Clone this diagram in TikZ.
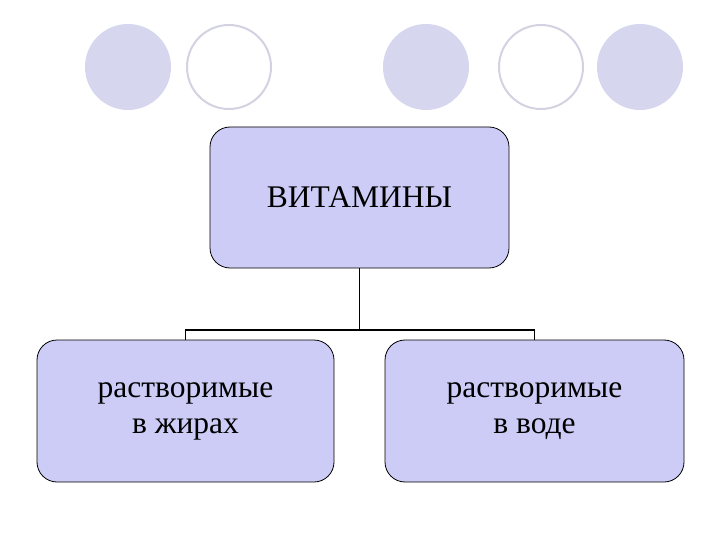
\documentclass[tikz,border=0pt]{standalone}
\usepackage{fontspec}
\setmainfont{Liberation Serif}
\definecolor{boxfill}{HTML}{CCCCF7}
\definecolor{circfill}{HTML}{D6D6EE}
\definecolor{circline}{HTML}{D2D2E2}
\tikzset{
  vbox/.style={draw=black, line width=0.8pt, fill=boxfill, rounded corners=20pt, align=center, font=\fontsize{31.5}{36}\selectfont},
  fcirc/.style={circle, fill=circfill, minimum size=86pt, inner sep=0pt},
  ocirc/.style={circle, draw=circline, line width=2pt, fill=white, minimum size=84pt, inner sep=0pt},
  conn/.style={draw=black, line width=1.6pt}
}
\begin{document}
\begin{tikzpicture}[x=1pt,y=-1pt]
\useasboundingbox (0,0) rectangle (720,540);
\node[fcirc] (c1) at (128,67) {};
\node[ocirc] (c2) at (229,67) {};
\node[fcirc] (c3) at (426,67) {};
\node[ocirc] (c4) at (541,67) {};
\node[fcirc] (c5) at (640,67) {};
\node[vbox, minimum width=299pt, minimum height=141pt] (top) at (359.5,197.5) {ВИТАМИНЫ};
\node[vbox, minimum width=297pt, minimum height=142pt] (left) at (185.5,411) {растворимые\\в жирах};
\node[vbox, minimum width=299pt, minimum height=142pt] (right) at (534.5,411) {растворимые\\в воде};
\coordinate (j) at (top.south |- 0,330);
\draw[conn] (top.south) -- (j);
\draw[conn] (left.north) |- (j) -| (right.north);
\end{tikzpicture}
\end{document}
